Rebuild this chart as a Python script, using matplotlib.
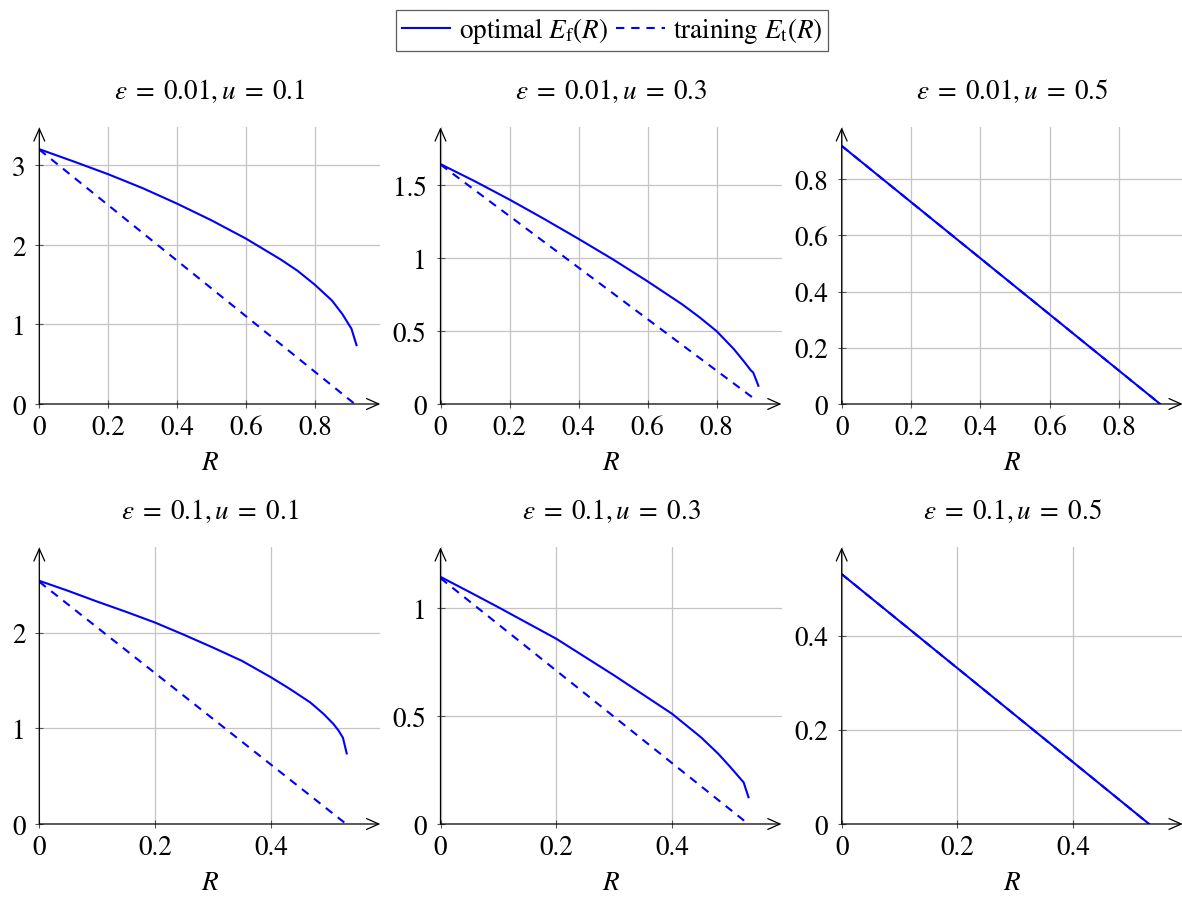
import matplotlib
matplotlib.use("Agg")
import matplotlib.pyplot as plt
from matplotlib.ticker import FuncFormatter

# ------------------------------------------------------------------
#  DATA
# ------------------------------------------------------------------
titles = [r'$\varepsilon\;=\;0.01, u\;=\;0.1$', r'$\varepsilon\;=\;0.01, u\;=\;0.3$', r'$\varepsilon\;=\;0.01, u\;=\;0.5$',
          r'$\varepsilon\;=\;0.1, u\;=\;0.1$',  r'$\varepsilon\;=\;0.1, u\;=\;0.3$',  r'$\varepsilon\;=\;0.1, u\;=\;0.5$']

# eps = 0.01
R_top      = [0, 0.1, 0.2, 0.3, 0.4, 0.5, 0.6, 0.7, 0.75, 0.8, 0.85, 0.88, 0.9, 0.906, 0.921]
E_f_u01_a  = [3.205, 3.05, 2.89, 2.715, 2.52, 2.31, 2.08, 1.82, 1.675, 1.50, 1.30, 1.13, 0.99, 0.95, 0.74]
E_f_u03_a  = [1.643, 1.525, 1.40, 1.268, 1.131, 0.99, 0.84, 0.683, 0.595, 0.499, 0.376, 0.289, 0.228, 0.216, 0.125]
R_t_u01_a  = [0, 0.916]
E_t_u01_a  = [3.20, 0]
R_t_u03_a  = [0, 0.918]
E_t_u03_a  = [1.64, 0.02]
R_u05_a    = [0, 0.918]
E_f_u05_a  = [0.918, 0]
E_t_u05_a  = [0.918, 0]

# eps = 0.1
R_bot_1    = [0, 0.05, 0.1, 0.15, 0.2, 0.25, 0.3, 0.35, 0.4, 0.433, 0.468, 0.491, 0.508, 0.517, 0.5245, 0.531]
E_f_u01_b  = [2.54, 2.435, 2.323, 2.216, 2.104, 1.976, 1.843, 1.704, 1.533, 1.41, 1.27, 1.15, 1.045, 0.975, 0.90, 0.737]
R_bot_3    = [0, 0.05, 0.1, 0.2, 0.3, 0.4, 0.45, 0.48, 0.5, 0.5236, 0.532]
E_f_u03_b  = [1.146, 1.076, 1.005, 0.859, 0.689, 0.511, 0.402, 0.325, 0.266, 0.193, 0.124]
R_t_u01_b  = [0, 0.528]
E_t_u01_b  = [2.53, 0.01]
R_t_u03_b  = [0, 0.527]
E_t_u03_b  = [1.14, 0.01]
R_u05_b    = [0, 0.531]
E_f_u05_b  = [0.531, 0]
E_t_u05_b  = [0.531, 0]

panels = [(R_top, E_f_u01_a, R_t_u01_a, E_t_u01_a),
          (R_top, E_f_u03_a, R_t_u03_a, E_t_u03_a),
          (R_u05_a, E_f_u05_a, R_u05_a, E_t_u05_a),
          (R_bot_1, E_f_u01_b, R_t_u01_b, E_t_u01_b),
          (R_bot_3, E_f_u03_b, R_t_u03_b, E_t_u03_b),
          (R_u05_b, E_f_u05_b, R_u05_b, E_t_u05_b)]

x_ticks = [[0, 0.2, 0.4, 0.6, 0.8]] * 3 + [[0, 0.2, 0.4]] * 3
y_ticks = [[0, 1, 2, 3], [0, 0.5, 1, 1.5], [0, 0.2, 0.4, 0.6, 0.8],
           [0, 1, 2], [0, 0.5, 1], [0, 0.2, 0.4]]
x_max   = [0.99, 0.988, 0.983, 0.589, 0.589, 0.589]
y_max   = [3.48, 1.895, 0.984, 2.89, 1.283, 0.588]

# ------------------------------------------------------------------
#  STYLE
# ------------------------------------------------------------------
fs = 19.5
plt.rcParams.update({'font.family': 'STIXGeneral',
                     'mathtext.fontset': 'stix',
                     'font.size': fs,
                     'xtick.labelsize': fs,
                     'ytick.labelsize': fs})
line_color = (0, 0, 1)
grid_color = '#c4c4c4'

fig = plt.figure(figsize=(11.82, 9.03), dpi=100)

W = 341.0 / 1182
H = 0.3064
lefts   = [39.3 / 1182, 440.5 / 1182, 841.7 / 1182]
bottoms = [1 - 405.0 / 903, 1 - 825.0 / 903]

fmt = FuncFormatter(lambda v, p: '%g' % v)
arrow = dict(arrowstyle='->,head_length=0.45,head_width=0.2', lw=0.9, color='black', shrinkA=0, shrinkB=0)

axes = []
for i in range(6):
    row, col = divmod(i, 3)
    ax = fig.add_axes([lefts[col], bottoms[row], W, H])
    axes.append(ax)
    R_f, E_f, R_t, E_t = panels[i]

    ax.plot(R_f, E_f, color=line_color, linewidth=1.5, label=r'optimal $E_\mathrm{f}(R)$', zorder=3)
    ax.plot(R_t, E_t, color=line_color, linewidth=1.5, dashes=(4, 3.3), label=r'training $E_\mathrm{t}(R)$', zorder=3)

    ax.set_xlim(0, x_max[i])
    ax.set_ylim(0, y_max[i])
    ax.set_xticks(x_ticks[i])
    ax.set_yticks(y_ticks[i])
    ax.xaxis.set_major_formatter(fmt)
    ax.yaxis.set_major_formatter(fmt)
    ax.grid(True, color=grid_color, linewidth=0.9)
    ax.set_axisbelow(True)
    ax.tick_params(direction='inout', length=6, width=0.8, color='#555555')
    ax.tick_params(axis='y', pad=7)
    ax.tick_params(axis='x', pad=5)

    for s in ['top', 'right', 'left', 'bottom']:
        ax.spines[s].set_visible(False)
    # axis lines with arrow heads
    ax.annotate('', xy=(1.0, 0), xytext=(0, 0), xycoords='axes fraction', arrowprops=arrow)
    ax.annotate('', xy=(0, 1.0), xytext=(0, 0), xycoords='axes fraction', arrowprops=arrow)

    ax.set_title(titles[i], fontsize=fs, pad=21)
    ax.set_xlabel(r'$R$', fontsize=fs, labelpad=7)

handles, labels = axes[0].get_legend_handles_labels()
leg = fig.legend(handles, labels, loc='upper center', bbox_to_anchor=(612.0 / 1182, 1 - 11.0 / 903),
                 ncol=2, frameon=True, fancybox=False, edgecolor='#333333', fontsize=fs,
                 handlelength=1.8, handletextpad=0.3, columnspacing=0.3, borderpad=0.2,
                 borderaxespad=0.0)
leg.get_frame().set_linewidth(0.9)

fig.savefig('out.png', dpi=100)
